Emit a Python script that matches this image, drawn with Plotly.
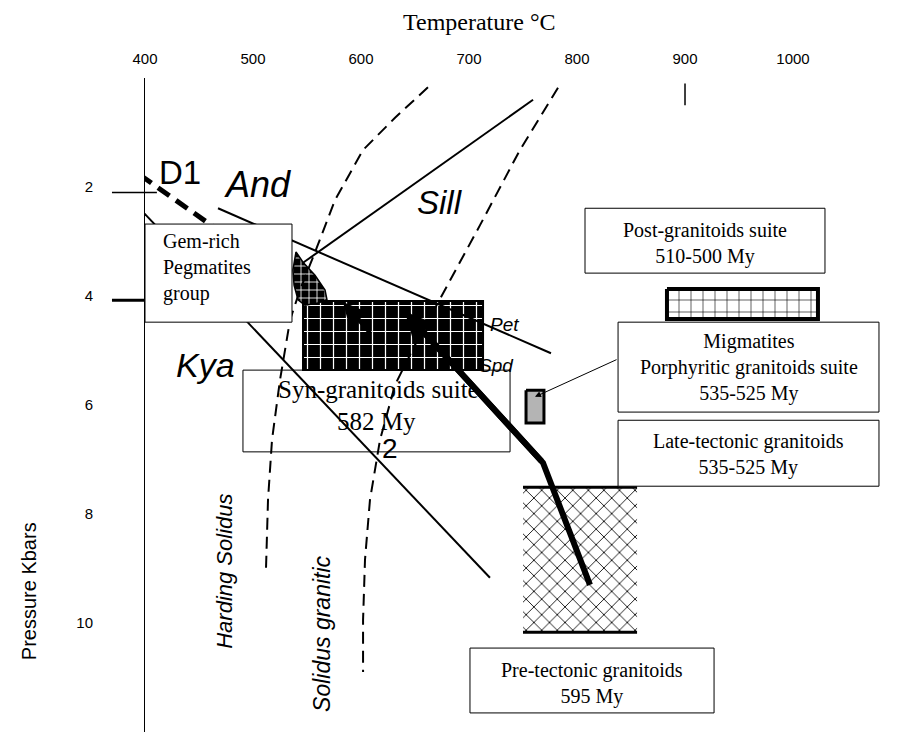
import plotly.graph_objects as go

# ---- axes ----------------------------------------------------------------
temp_ticks = [400, 500, 600, 700, 800, 900, 1000]        # °C
pres_ticks = [2, 4, 6, 8, 10]                            # kbar
temp_range = [400, 1111.1]
pres_range = [12, 0]

# ---- reaction curves (T °C, P kbar) ---------------------------------------
and_sill_T = [467.6, 775.9]
and_sill_P = [2.39, 5.05]
sill_T = [546.3, 759.3]
sill_P = [3.39, 0.40]
kya_T = [396.3, 719.4]
kya_P = [2.42, 9.17]
d1_T = [395.4, 464.8]
d1_P = [1.78, 2.75]

harding_T = [662.0, 631.5, 601.9, 575.9, 559.3, 543.5, 534.3, 525.0, 517.6, 513.9, 512.0]
harding_P = [0.17, 0.73, 1.32, 2.24, 3.10, 3.89, 4.44, 5.54, 6.64, 7.74, 9.03]

solidus_T = [782.4, 747.2, 710.2, 677.8, 650.0, 631.5, 617.6, 608.3, 603.7, 601.9, 601.9]
solidus_P = [0.18, 1.32, 2.70, 3.89, 4.90, 5.63, 6.64, 7.74, 8.84, 9.95, 10.90]

# P-T path 2 and the short path inside the syn-granitoid field
path2_T = [812.0, 768.5, 640.7]
path2_P = [9.30, 7.06, 4.29]
path1_T = [610.2, 583.3]
path1_P = [4.72, 4.11]

# ---- P-T fields ------------------------------------------------------------
syn_field_T = [546.3, 713.0]
syn_field_P = [4.09, 5.36]
post_field_T = [883.3, 1023.1]
post_field_P = [3.87, 4.42]
mig_field_T = [752.8, 769.4]
mig_field_P = [5.73, 6.33]
pre_field_T = [750.0, 855.6]
pre_field_P = [7.51, 10.17]
peg_field_T = [539.8, 546.3, 557.4, 566.7, 568.5, 560.2, 548.1, 541.7, 538.0, 537.0, 539.8]
peg_field_P = [3.19, 3.38, 3.62, 3.89, 4.07, 4.13, 4.17, 4.07, 3.80, 3.52, 3.19]

# ---- captions and their frames --------------------------------------------
gem_text = "Gem-rich<br>Pegmatites<br>group"
gem_box_T = [400.0, 536.1]
gem_box_P = [2.68, 4.48]
syn_lines = ["Syn-granitoids suite", "582 My"]
syn_box_T = [490.7, 738.0]
syn_box_P = [5.36, 6.86]
post_text = "Post-granitoids suite<br>510-500 My"
post_box_T = [807.4, 1029.6]
post_box_P = [2.39, 3.58]
mig_text = "Migmatites<br>Porphyritic granitoids suite<br>535-525 My"
mig_box_T = [838.0, 1079.6]
mig_box_P = [4.48, 6.13]
late_text = "Late-tectonic granitoids<br>535-525 My"
late_box_T = [838.0, 1079.6]
late_box_P = [6.28, 7.49]
pre_text = "Pre-tectonic granitoids<br>595 My"
pre_box_T = [700.9, 926.9]
pre_box_P = [10.46, 11.65]

SERIF = "Liberation Serif"
SANS = "Liberation Sans"


def rect(t, p):
    return [t[0], t[1], t[1], t[0], t[0]], [p[0], p[0], p[1], p[1], p[0]]


fig = go.Figure()


def line(x, y, width=2, dash=None):
    fig.add_trace(go.Scatter(x=x, y=y, mode="lines", hoverinfo="skip",
                             line=dict(color="black", width=width, dash=dash)))


# caption frame that sits under the curves
fig.add_shape(type="rect", x0=syn_box_T[0], x1=syn_box_T[1],
              y0=syn_box_P[0], y1=syn_box_P[1],
              xref="x", yref="y", layer="below",
              fillcolor="white", line=dict(color="black", width=1))

# patterned P-T fields
x, y = rect(syn_field_T, syn_field_P)
fig.add_trace(go.Scatter(x=x, y=y, mode="lines", fill="toself", hoverinfo="skip",
                         line=dict(color="black", width=2),
                         fillpattern=dict(shape="+", bgcolor="black", fgcolor="white",
                                          fgopacity=1, size=13, solidity=0.18)))
x, y = rect(pre_field_T, pre_field_P)
fig.add_trace(go.Scatter(x=x, y=y, mode="lines", fill="toself", hoverinfo="skip",
                         line=dict(color="rgba(0,0,0,0)", width=0),
                         fillpattern=dict(shape="x", bgcolor="white", fgcolor="black",
                                          fgopacity=1, size=11, solidity=0.15)))
line(pre_field_T, [pre_field_P[0]] * 2, width=3)
line(pre_field_T, [pre_field_P[1]] * 2, width=3)
x, y = rect(post_field_T, post_field_P)
fig.add_trace(go.Scatter(x=x, y=y, mode="lines", fill="toself", hoverinfo="skip",
                         line=dict(color="black", width=4),
                         fillpattern=dict(shape="+", bgcolor="white", fgcolor="black",
                                          fgopacity=1, size=12, solidity=0.1)))
x, y = rect(mig_field_T, mig_field_P)
fig.add_trace(go.Scatter(x=x, y=y, mode="lines", fill="toself", hoverinfo="skip",
                         fillcolor="#b4b4b4", line=dict(color="black", width=3)))
fig.add_trace(go.Scatter(x=peg_field_T, y=peg_field_P, mode="lines", fill="toself",
                         hoverinfo="skip", line=dict(color="black", width=1.5),
                         fillpattern=dict(shape="+", bgcolor="black", fgcolor="white",
                                          fgopacity=1, size=8, solidity=0.2)))

# reaction curves
line(and_sill_T, and_sill_P, width=2)
line(sill_T, sill_P, width=2)
line(kya_T, kya_P, width=2)
line(d1_T, d1_P, width=5, dash="14px,8px")
line(harding_T, harding_P, width=2, dash="12px,7px")
line(solidus_T, solidus_P, width=2, dash="12px,7px")

# P-T paths
line(path2_T, path2_P, width=6)
fig.add_annotation(x=path2_T[-1], y=path2_P[-1], ax=path2_T[-2], ay=path2_P[-2],
                   xref="x", yref="y", axref="x", ayref="y", text="",
                   showarrow=True, arrowhead=2, arrowsize=0.9, arrowwidth=6,
                   arrowcolor="black")
fig.add_annotation(x=path1_T[-1], y=path1_P[-1], ax=path1_T[0], ay=path1_P[0],
                   xref="x", yref="y", axref="x", ayref="y", text="",
                   showarrow=True, arrowhead=2, arrowsize=1.2, arrowwidth=4,
                   arrowcolor="black")

# pointer from the migmatite caption to its field
fig.add_annotation(x=sum(mig_field_T) / 2, y=mig_field_P[0] + 0.12,
                   ax=mig_box_T[0], ay=(mig_box_P[0] + mig_box_P[1]) / 2 - 0.15,
                   xref="x", yref="y", axref="x", ayref="y", text="",
                   showarrow=True, arrowhead=2, arrowsize=1.2, arrowwidth=1,
                   arrowcolor="black")

# caption frames above the curves
for bt, bp in [(gem_box_T, gem_box_P), (post_box_T, post_box_P),
               (mig_box_T, mig_box_P), (late_box_T, late_box_P),
               (pre_box_T, pre_box_P)]:
    fig.add_shape(type="rect", x0=bt[0], x1=bt[1], y0=bp[0], y1=bp[1],
                  xref="x", yref="y", layer="above",
                  fillcolor="white", line=dict(color="black", width=1))


def caption(t, p, text, size=20, family=SERIF, xanchor="center", align="center",
            angle=0):
    fig.add_annotation(x=t, y=p, text=text, showarrow=False, xref="x", yref="y",
                       xanchor=xanchor, yanchor="middle", align=align,
                       textangle=angle, font=dict(family=family, size=size,
                                                  color="black"))


caption(gem_box_T[0] + 14.8, sum(gem_box_P) / 2 - 0.1, gem_text,
        xanchor="left", align="left")
syn_mid = sum(syn_box_T) / 2
caption(syn_mid + 2, syn_box_P[0] + 0.36, syn_lines[0], size=25)
caption(syn_mid, syn_box_P[0] + 0.95, syn_lines[1], size=25)
caption(sum(post_box_T) / 2, sum(post_box_P) / 2 + 0.05, post_text)
caption(sum(mig_box_T) / 2, sum(mig_box_P) / 2, mig_text)
caption(sum(late_box_T) / 2, sum(late_box_P) / 2 + 0.03, late_text)
caption(sum(pre_box_T) / 2, sum(pre_box_P) / 2 + 0.05, pre_text)

# field names
caption(432.4, 1.73, "D1", size=33, family=SANS)
caption(503.7, 1.96, "<i>And</i>", size=36, family=SANS)
caption(673.1, 2.29, "<i>Sill</i>", size=33, family=SANS)
caption(455.6, 5.27, "<i>Kya</i>", size=34, family=SANS)
caption(733.3, 4.53, "<i>Pet</i>", size=19, family=SANS)
caption(725.9, 5.27, "<i>Spd</i>", size=19, family=SANS)
caption(627.0, 6.80, "2", size=28, family=SANS)
caption(474.1, 9.06, "<i>Harding Solidus</i>", size=22, family=SANS, angle=-90)
caption(563.9, 10.2, "<i>Solidus granitic</i>", size=23, family=SANS, angle=-90)

# short tick strokes
fig.add_shape(type="line", xref="paper", yref="y", x0=-0.043, x1=0.0155,
              y0=pres_ticks[0] + 0.1, y1=pres_ticks[0] + 0.1,
              line=dict(color="black", width=1.5))
fig.add_shape(type="line", xref="paper", yref="y", x0=-0.043, x1=0,
              y0=pres_ticks[1] + 0.08, y1=pres_ticks[1] + 0.08,
              line=dict(color="black", width=3))
fig.add_shape(type="line", xref="x", yref="y", x0=temp_ticks[5], x1=temp_ticks[5],
              y0=0.1, y1=0.5, line=dict(color="black", width=1.5))

# axis titles
fig.add_annotation(text="Temperature °C", xref="paper", yref="paper",
                   x=0.435, y=1.086, showarrow=False, xanchor="center",
                   yanchor="middle", font=dict(family=SERIF, size=24, color="black"))
fig.add_annotation(text="Pressure Kbars", xref="paper", yref="paper",
                   x=-0.15, y=0.215, showarrow=False, textangle=-90,
                   xanchor="center", yanchor="middle",
                   font=dict(family=SANS, size=20, color="black"))

fig.update_layout(
    width=922, height=745,
    margin=dict(l=145, r=9, t=78, b=13),
    paper_bgcolor="white", plot_bgcolor="white",
    showlegend=False,
    xaxis=dict(range=temp_range, side="top", tickvals=temp_ticks,
               ticks="", showgrid=False, zeroline=False, showline=False,
               ticklabelstandoff=10,
               tickfont=dict(family=SANS, size=15, color="black")),
    yaxis=dict(range=pres_range, tickvals=pres_ticks, ticks="",
               showgrid=False, zeroline=False, showline=True,
               linecolor="black", linewidth=1, ticklabelstandoff=48,
               tickfont=dict(family=SANS, size=15, color="black")),
)

fig.write_html("out.html")
